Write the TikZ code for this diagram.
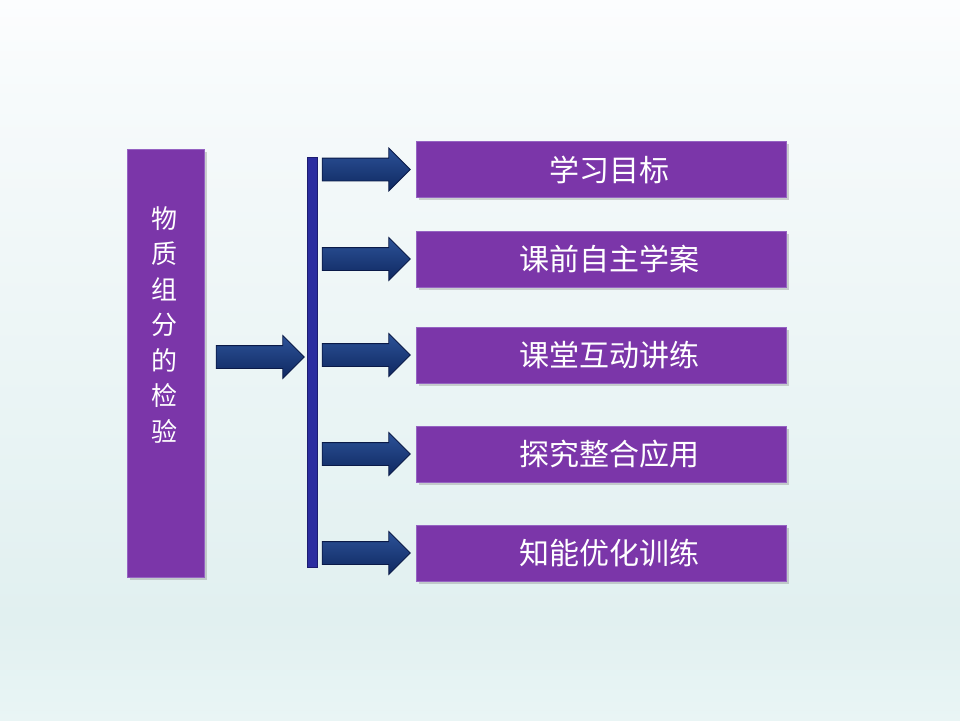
\documentclass[tikz,border=0pt]{standalone}
\usepackage{fontspec}
\newfontfamily\cjk{Noto Sans CJK SC}
\usetikzlibrary{shapes.arrows,shadows,calc}
\definecolor{boxfill}{HTML}{7B36A9}
\definecolor{boxedge}{HTML}{9563C2}
\definecolor{arrtop}{HTML}{2C5298}
\definecolor{arrbot}{HTML}{0F2860}
\definecolor{arredge}{HTML}{0A1A48}
\definecolor{barfill}{HTML}{2B2DA0}
\definecolor{baredge}{HTML}{1C1C70}
\definecolor{bgA}{HTML}{E9F5F5}
\definecolor{bgB}{HTML}{E1F0F0}
\definecolor{bgC}{HTML}{F6FAFB}
\definecolor{bgD}{HTML}{FCFDFE}
\pgfdeclareverticalshading{bgshade}{100bp}{color(0bp)=(bgA); color(25bp)=(bgA); color(32bp)=(bgB); color(68bp)=(bgC); color(75bp)=(bgD); color(100bp)=(bgD)}
\tikzset{
  purplebox/.style={rectangle, fill=boxfill, draw=boxedge, line width=0.8pt,
    drop shadow={shadow xshift=2.5pt, shadow yshift=-2.5pt, opacity=0.35, fill=gray}},
  itembox/.style={purplebox, minimum width=370pt, minimum height=56pt, inner sep=0pt},
  itemtext/.style={text=white, font=\cjk\fontsize{30pt}{36pt}\selectfont},
  blockarrow/.style={single arrow, single arrow head extend=10pt, inner xsep=0pt,
    inner ysep=11pt, minimum height=88pt, top color=arrtop, bottom color=arrbot,
    draw=arredge, line width=0.8pt},
  vbar/.style={rectangle, fill=barfill, draw=baredge, line width=0.8pt,
    minimum width=10pt, minimum height=410pt, inner sep=0pt}
}
\begin{document}
\begin{tikzpicture}[x=1pt,y=-1pt]
\useasboundingbox (0,0) rectangle (960,720);
\fill[shading=bgshade] (0,0) rectangle (960,720);
\node[purplebox, minimum width=77pt, minimum height=428pt, inner sep=0pt] (L) at (165.5,363) {};
\node[anchor=north, align=center, text=white, inner sep=0pt,
  font=\cjk\fontsize{26pt}{35.5pt}\selectfont] (Lt) at (164,206) {物\\质\\组\\分\\的\\检\\验};
\node[vbar] (B) at (312,362) {};
\node[itembox] (b1) at (601,169.5) {};
\node[itembox] (b2) at (601,259) {};
\node[itembox] (b3) at (601,355) {};
\node[itembox] (b4) at (601,454) {};
\node[itembox] (b5) at (601,553) {};
\node[itemtext, xshift=8pt] (t1) at (b1) {学习目标};
\node[itemtext, xshift=8pt] (t2) at (b2) {课前自主学案};
\node[itemtext, xshift=8pt] (t3) at (b3) {课堂互动讲练};
\node[itemtext, xshift=8pt] (t4) at (b4) {探究整合应用};
\node[itemtext, xshift=8pt] (t5) at (b5) {知能优化训练};
\path (L.east |- b3) -- (B.west |- b3) node[midway, xshift=-1pt, yshift=-2pt, blockarrow] (a0) {};
\foreach \i in {1,...,5}{
  \path (B.east |- b\i) -- (b\i.west) node[midway, xshift=-6pt, blockarrow] (a\i) {};
}
\end{tikzpicture}
\end{document}
